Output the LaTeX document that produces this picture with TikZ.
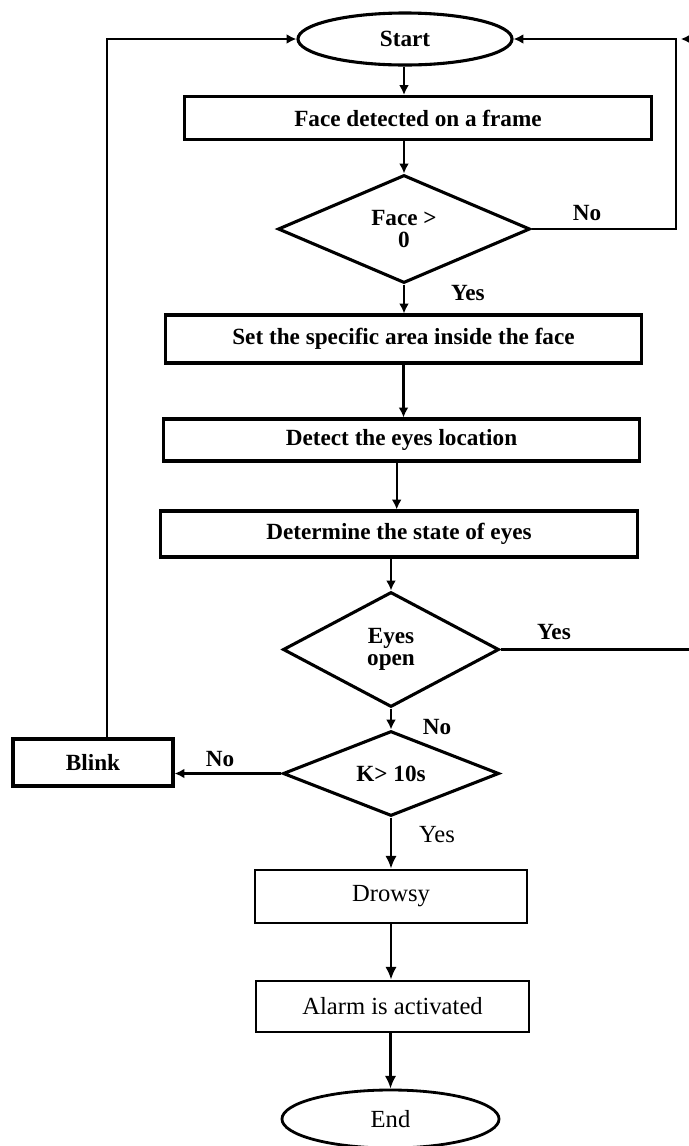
\documentclass[tikz,border=0pt]{standalone}
\usepackage{fontspec}
\setmainfont{Liberation Serif}
\usetikzlibrary{shapes.geometric,arrows.meta}
\begin{document}
\begin{tikzpicture}[x=.025cm, y=-.025cm,
		box/.style={draw, rectangle, line width=2.2pt, inner sep=0pt, font=\fontsize{16.5}{16.5}\selectfont\bfseries},
		dia/.style={draw, diamond, line width=2.2pt, inner sep=0pt, align=center, font=\fontsize{16.5}{15.5}\selectfont\bfseries},
		term/.style={draw, ellipse, line width=2.2pt, inner sep=0pt},
		lowbox/.style={draw, rectangle, line width=2pt, inner sep=0pt, font=\fontsize{17.5}{17.5}\selectfont},
		arr/.style={line width=1.5pt, -{Latex[length=7pt, width=7pt]}},
		arrbig/.style={line width=1.5pt, -{Latex[length=9pt, width=8pt]}},
		lbl/.style={inner sep=0pt, font=\fontsize{16.5}{16.5}\selectfont\bfseries},
		lowlbl/.style={inner sep=0pt, font=\fontsize{17.5}{17.5}\selectfont}]
		\useasboundingbox (0, 0) rectangle (689, 1146);
		\clip (0, 0) rectangle (689, 1146);
		% main column
		\node[term, minimum width=5.35cm, minimum height=1.3cm, font=\fontsize{16.5}{16.5}\selectfont\bfseries] (start) at (405, 39) {Start};
		\node[box, minimum width=11.675cm, minimum height=1.075cm] (face) at (418, 118) {Face detected on a frame};
		\node[dia, minimum width=6.3cm, minimum height=2.7cm] (facechk) at (404, 229) {Face >\\0};
		\node[box, minimum width=11.875cm, minimum height=1.2cm] (area) at (403.5, 339) {Set the specific area inside the face};
		\node[box, minimum width=11.875cm, minimum height=1.05cm] (eyeloc) at (401.5, 440) {Detect the eyes location};
		\node[box, minimum width=11.9cm, minimum height=1.15cm] (state) at (399, 534) {Determine the state of eyes};
		\node[dia, minimum width=5.4cm, minimum height=2.875cm] (open) at (391, 649.5) {Eyes\\open};
		\node[dia, minimum width=5.4cm, minimum height=1.675cm] (time) at (391, 773.5) {K> 10s};
		\node[box, minimum width=4cm, minimum height=1.175cm] (blink) at (93, 762.5) {Blink};
		\node[lowbox, minimum width=6.8cm, minimum height=1.325cm] (drowsy) at (391, 896.5) {Drowsy};
		\node[lowbox, minimum width=6.825cm, minimum height=1.275cm] (alarm) at (392.5, 1006.5) {Alarm is activated};
		\node[term, line width=2pt, minimum width=5.425cm, minimum height=1.45cm, font=\fontsize{17.5}{17.5}\selectfont] (end) at (390.5, 1119) {End};
		% labels
		\node[lbl] (nface) at (587, 213) {No};
		\node[lbl] (yface) at (468, 293) {Yes};
		\node[lbl] (yopen) at (554, 632) {Yes};
		\node[lbl] (nopen) at (437, 727) {No};
		\node[lbl] (ntime) at (220, 759) {No};
		\node[lowlbl] (ytime) at (437, 835) {Yes};
		\coordinate (jn) at (676, 39);
		\coordinate (far) at (700, 39);
		% connectors
		\draw[arr] (start.south -| facechk.north) -- (face.north -| facechk.north);
		\draw[arr] (face.south -| facechk.north) -- (facechk.north);
		\draw[arr] (facechk.south) -- (area.north -| facechk.south);
		\draw[arr] (area.south) -- (eyeloc.north -| area.south);
		\draw[arr] ([xshift=-.12cm]eyeloc.south) -- ([xshift=-.12cm]eyeloc.south |- state.north);
		\draw[arr] (state.south -| open.north) -- (open.north);
		\draw[arr] (open.south) -- (time.north);
		\draw[arrbig] (time.south) -- (drowsy.north);
		\draw[arrbig] (drowsy.south) -- (drowsy.south |- alarm.north);
		\draw[arrbig] (alarm.south -| end.north) -- (end.north);
		\draw[arr] (time.west) -- (time.west -| blink.east);
		\draw[arr] ([xshift=.35cm]blink.north) |- (start.west);
		\draw[arr] (facechk.east) -| (jn) -- (start.east);
		\draw[arr, shorten >=.12cm] (open.east) -| (far) -- (jn);
\end{tikzpicture}
\end{document}
